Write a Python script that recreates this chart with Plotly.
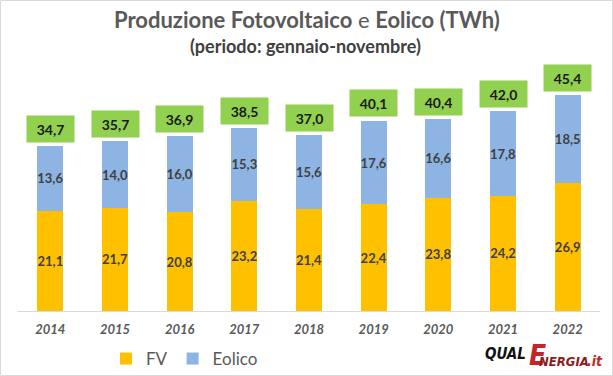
import plotly.graph_objects as go

years = ["2014", "2015", "2016", "2017", "2018", "2019", "2020", "2021", "2022"]
fv = [21.1, 21.7, 20.8, 23.2, 21.4, 22.4, 23.8, 24.2, 26.9]
eolico = [13.6, 14.0, 16.0, 15.3, 15.6, 17.6, 16.6, 17.8, 18.5]
totals = [34.7, 35.7, 36.9, 38.5, 37.0, 40.1, 40.4, 42.0, 45.4]

W, H = 613, 376
ML, MR, MT, MB = 18, 13, 60, 65
PW, PH = W - ML - MR, H - MT - MB
FONT = "Lato, 'Open Sans', sans-serif"
GRAY = "#595959"

def px(x):
    return (x - ML) / PW

def py(y):
    return (H - MB - y) / PH

fig = go.Figure()
fig.add_trace(go.Bar(
    x=years, y=fv, name="FV", marker=dict(color="#FFC000", line=dict(width=0)),
    texttemplate="<b>%{y:.1f}</b>", textposition="inside", insidetextanchor="middle",
    textangle=0, constraintext="none",
    insidetextfont=dict(family=FONT, size=13, color="#404040"),
))
fig.add_trace(go.Bar(
    x=years, y=eolico, name="Eolico", marker=dict(color="#8EB4E3", line=dict(width=0)),
    texttemplate="<b>%{y:.1f}</b>", textposition="inside", insidetextanchor="middle",
    textangle=0, constraintext="none",
    insidetextfont=dict(family=FONT, size=13, color="#404040"),
))

annotations = []
for i, t in enumerate(totals):
    annotations.append(dict(
        x=i, y=t, xref="x", yref="y", yanchor="bottom", yshift=3,
        text="<b>" + f"{t:.1f}".replace(".", ",") + "</b>", showarrow=False,
        bgcolor="#92D050", width=43, height=22, borderpad=2,
        font=dict(family=FONT, size=14, color="#1A1A1A"),
    ))

annotations.append(dict(
    x=px(306.5), y=py(20), xref="paper", yref="paper", xanchor="center", yanchor="middle",
    text="<b>Produzione Fotovoltaico</b> e <b>Eolico (TWh)</b>", showarrow=False,
    font=dict(family=FONT, size=22, color=GRAY),
))
annotations.append(dict(
    x=px(305), y=py(46), xref="paper", yref="paper", xanchor="center", yanchor="middle",
    text="<b>(periodo: gennaio-novembre)</b>", showarrow=False,
    font=dict(family=FONT, size=18, color="#404040"),
))

LOGO = "'Liberation Sans Narrow', 'DejaVu Sans Condensed', sans-serif"
annotations += [
    dict(x=px(527), y=py(364), xref="paper", yref="paper", xanchor="right", yanchor="bottom",
         text="<b><i>QUAL</i></b>", showarrow=False, borderpad=0,
         font=dict(family=LOGO, size=15, color="#111111")),
    dict(x=px(547), y=py(373), xref="paper", yref="paper", xanchor="right", yanchor="bottom",
         text="<b><i>E</i></b>", showarrow=False, borderpad=0,
         font=dict(family=LOGO, size=28, color="#C0262B")),
    dict(x=px(590), y=py(370), xref="paper", yref="paper", xanchor="right", yanchor="bottom",
         text="<b><i>NERGIA</i></b>", showarrow=False, borderpad=0,
         font=dict(family=LOGO, size=13, color="#8B1C1C")),
    dict(x=px(604), y=py(370), xref="paper", yref="paper", xanchor="right", yanchor="bottom",
         text="<b><i>.it</i></b>", showarrow=False, borderpad=0,
         font=dict(family=LOGO, size=14, color="#C0262B")),
]

fig.update_layout(
    width=W, height=H,
    margin=dict(l=ML, r=MR, t=MT, b=MB, pad=0, autoexpand=False),
    barmode="stack", bargap=0.6,
    separators=",.",
    paper_bgcolor="white", plot_bgcolor="white",
    showlegend=True,
    legend=dict(orientation="h", xref="container", yref="container",
                x=106 / W, y=(H - 359) / H, xanchor="left", yanchor="middle",
                font=dict(family=FONT, size=17, color=GRAY), traceorder="normal",
                itemwidth=30, bgcolor="rgba(0,0,0,0)"),
    annotations=annotations,
    shapes=[dict(type="rect", xref="paper", yref="paper",
                 x0=px(0.5), x1=px(W - 0.5), y0=py(H - 0.5), y1=py(0.5),
                 line=dict(color="#D9D9D9", width=1), layer="below")],
    xaxis=dict(type="category", range=[-0.5, 8.5], showgrid=False, showline=True,
               linecolor="#D9D9D9", linewidth=1, automargin=False,
               ticks="", tickfont=dict(family=FONT, size=13, color=GRAY),
               tickprefix="<b><i>", ticksuffix="</i></b>", ticklabelstandoff=6),
    yaxis=dict(range=[0, PH / 4.755], visible=False, showgrid=False, zeroline=False,
               automargin=False),
)

fig.write_html("out.html", config={"displayModeBar": False},
               post_script="document.body.style.margin='0';document.body.style.overflow='hidden';")
